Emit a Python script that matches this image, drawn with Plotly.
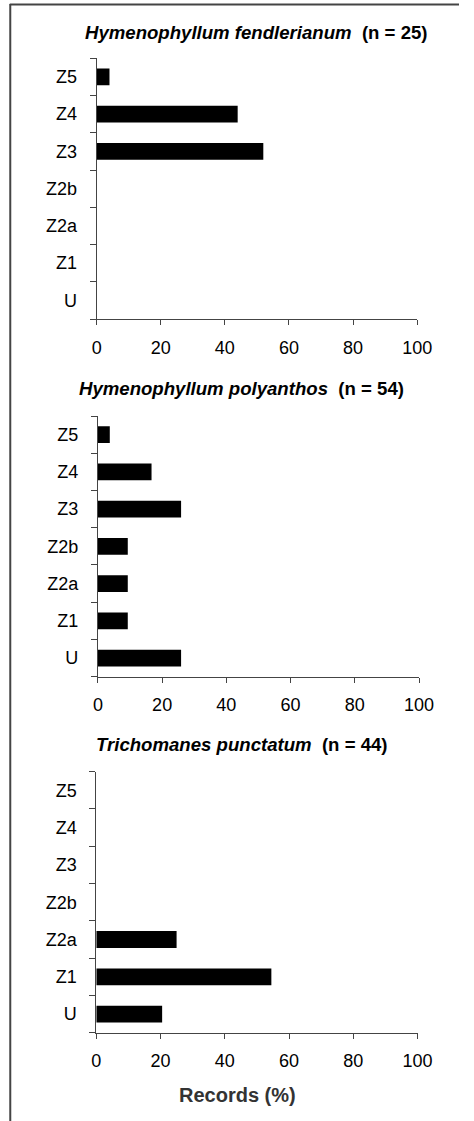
import plotly.graph_objects as go

# Categories, bottom to top (plotly draws first category at bottom)
zones = ["U", "Z1", "Z2a", "Z2b", "Z3", "Z4", "Z5"]

# Records (%) per zone
h_fendlerianum = [0, 0, 0, 0, 52, 44, 4]
h_polyanthos = [25.9, 9.3, 9.3, 9.3, 25.9, 16.7, 3.7]
t_punctatum = [20.5, 54.5, 25.0, 0, 0, 0, 0]

titles = [
    "<b><i>Hymenophyllum fendlerianum</i>\u00a0\u00a0(n = 25)</b>",
    "<b><i>Hymenophyllum polyanthos</i>\u00a0\u00a0(n = 54)</b>",
    "<b><i>Trichomanes punctatum</i>\u00a0\u00a0(n = 44)</b>",
]
x_ticks = [0, 20, 40, 60, 80, 100]
x_label = "Records (%)"

W, H = 474, 1121
FONT = "Liberation Sans, Arial, sans-serif"
AX = "#444444"

# panel pixel boxes: (left, right, top, bottom)
boxes = [
    (95.7, 430.3, 58.3, 319.0),
    (97.0, 432.3, 416.0, 676.7),
    (95.3, 430.7, 771.7, 1032.7),
]
title_pos = [(263, 32), (247, 388), (247, 745)]

fig = go.Figure()
series = [h_fendlerianum, h_polyanthos, t_punctatum]
for i, vals in enumerate(series):
    n = i + 1
    fig.add_trace(go.Bar(
        x=vals, y=zones, orientation="h",
        marker=dict(color="black", line=dict(width=0)),
        xaxis=f"x{n if n > 1 else ''}", yaxis=f"y{n if n > 1 else ''}",
        showlegend=False, hoverinfo="skip",
    ))

layout = dict(
    width=W, height=H, autosize=False,
    margin=dict(l=0, r=0, t=0, b=0),
    paper_bgcolor="white", plot_bgcolor="white",
    bargap=0.55,
    font=dict(family=FONT, color="black", size=18),
)
for i, (l, r, t, b) in enumerate(boxes):
    n = i + 1
    sfx = "" if n == 1 else str(n)
    layout[f"xaxis{sfx}"] = dict(
        domain=[l / W, r / W], anchor=f"y{sfx}", range=[0, 100],
        tickvals=x_ticks, ticks="outside", ticklen=5, tickcolor=AX, tickwidth=1,
        showline=True, linecolor=AX, linewidth=1, showgrid=False, zeroline=False,
        tickfont=dict(size=18, family=FONT, color="black"), fixedrange=True,
        ticklabelstandoff=7,
    )
    layout[f"yaxis{sfx}"] = dict(
        domain=[1 - b / H, 1 - t / H], anchor=f"x{sfx}",
        type="category", categoryorder="array", categoryarray=zones,
        range=[-0.5, 6.5], tickson="boundaries",
        ticks="outside", ticklen=6, tickcolor=AX, tickwidth=1,
        showline=True, linecolor=AX, linewidth=1, showgrid=False, zeroline=False,
        tickfont=dict(size=18, family=FONT, color="black"), fixedrange=True,
        ticklabelstandoff=15,
    )
fig.update_layout(**layout)

annotations = []
for (tx, ty), txt in zip(title_pos, titles):
    annotations.append(dict(
        x=tx / W, y=1 - ty / H, xref="paper", yref="paper",
        xanchor="center", yanchor="middle", text=txt, showarrow=False,
        font=dict(size=18.6, family=FONT, color="black"),
    ))
annotations.append(dict(
    x=243 / W, y=1 - 1095 / H, xref="paper", yref="paper",
    xanchor="center", yanchor="middle", text=f"<b>{x_label}</b>", showarrow=False,
    font=dict(size=20, family=FONT, color="#333333"),
))
fig.update_layout(annotations=annotations)

# frame (top and left edges)
fig.update_layout(shapes=[
    dict(type="line", xref="paper", yref="paper", x0=5 / W, x1=1, y0=1 - 4.5 / H, y1=1 - 4.5 / H,
         line=dict(color=AX, width=2)),
    dict(type="line", xref="paper", yref="paper", x0=5.5 / W, x1=5.5 / W, y0=0, y1=1 - 4 / H,
         line=dict(color=AX, width=2)),
])

css_js = (
    "var s=document.createElement('style');"
    "s.textContent='html,body{margin:0!important;padding:0!important;overflow:hidden!important;"
    "width:474px!important;height:1121px!important;}"
    "body>div{margin:0;padding:0;width:474px;height:1121px;overflow:hidden;}';"
    "document.head.appendChild(s);"
)
fig.write_html(
    "out.html",
    config={"displayModeBar": False, "responsive": False},
    post_script=css_js,
)
